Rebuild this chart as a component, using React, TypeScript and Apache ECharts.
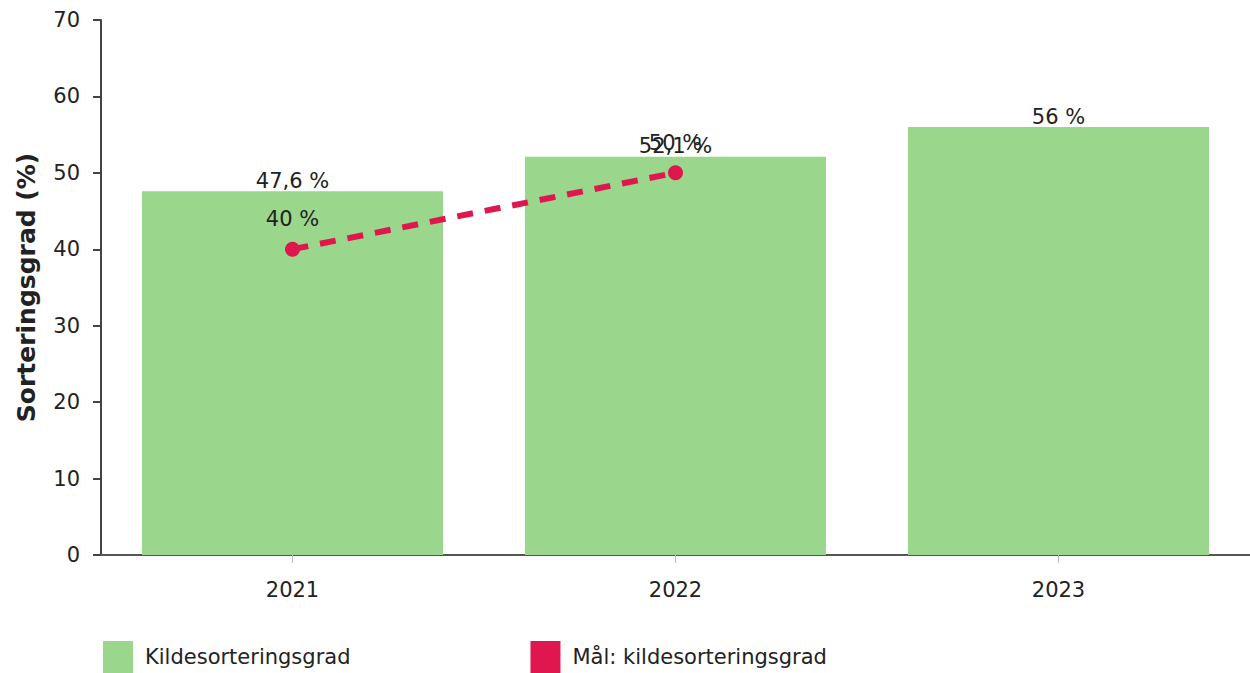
import React, { useEffect, useRef } from "react";
import * as echarts from "echarts";

const categories = ["2021", "2022", "2023"];
const sortingRate = [47.6, 52.1, 56];
const targetRate: (number | null)[] = [40, 50, null];
const yTicks = [0, 10, 20, 30, 40, 50, 60, 70];

const FONT = "DejaVu Sans, Verdana, sans-serif";
const fmt = (v: number) => String(v).replace(".", ",") + " %";

export default function App() {
  const ref = useRef<HTMLDivElement>(null);
  useEffect(() => {
    if (!ref.current) return;
    const chart = echarts.init(ref.current, undefined, { renderer: "svg" });
    chart.setOption({
      animation: false,
      backgroundColor: "#ffffff",
      textStyle: { fontFamily: FONT },
      grid: { left: 101, right: -6, top: 20, bottom: 118 },
      legend: {
        left: 98,
        bottom: -5,
        itemWidth: 30,
        itemHeight: 32,
        itemGap: 180,
        icon: "rect",
        textStyle: { fontFamily: FONT, fontSize: 21, color: "#222", padding: [0, 0, 0, 7] },
        data: [
          { name: "Kildesorteringsgrad", itemStyle: { color: "#9ad68b" } },
          { name: "Mål: kildesorteringsgrad", itemStyle: { color: "#e0174f" } },
        ],
      },
      xAxis: {
        type: "category",
        data: categories,
        axisLine: { show: true, lineStyle: { color: "#555", width: 2 } },
        axisTick: { show: true, alignWithLabel: true, length: 8, lineStyle: { color: "#bbb" } },
        axisLabel: { fontFamily: FONT, fontSize: 21, color: "#222", margin: 24 },
      },
      yAxis: {
        type: "value",
        min: yTicks[0],
        max: yTicks[yTicks.length - 1],
        interval: 10,
        name: "Sorteringsgrad (%)",
        nameLocation: "middle",
        nameGap: 62,
        nameRotate: 90,
        nameTextStyle: { fontFamily: FONT, fontSize: 25, fontWeight: "bold", color: "#222" },
        axisLine: { show: true, lineStyle: { color: "#444", width: 2 } },
        axisTick: { show: true, length: 8, lineStyle: { color: "#444", width: 2 } },
        splitLine: { show: false },
        axisLabel: { fontFamily: FONT, fontSize: 21, color: "#222", margin: 21 },
      },
      series: [
        {
          name: "Kildesorteringsgrad",
          type: "bar",
          data: sortingRate,
          barWidth: "78.6%",
          itemStyle: { color: "#9ad68b" },
          label: {
            show: true,
            position: "top",
            distance: 0,
            fontFamily: FONT,
            fontSize: 21,
            color: "#222",
            formatter: (p: any) => fmt(p.value),
          },
          z: 1,
        },
        {
          name: "Mål: kildesorteringsgrad",
          type: "line",
          data: targetRate,
          symbol: "circle",
          symbolSize: 15,
          itemStyle: { color: "#e0174f" },
          lineStyle: { color: "#e0174f", width: 6, type: [16, 12] },
          label: {
            show: true,
            position: "top",
            distance: 12,
            fontFamily: FONT,
            fontSize: 21,
            color: "#222",
            formatter: (p: any) => fmt(p.value),
          },
          z: 3,
        },
      ],
    });
    return () => chart.dispose();
  }, []);
  return (
    <div
      ref={ref}
      style={{ position: "fixed", left: 0, top: 0, width: 1250, height: 673 }}
    />
  );
}
